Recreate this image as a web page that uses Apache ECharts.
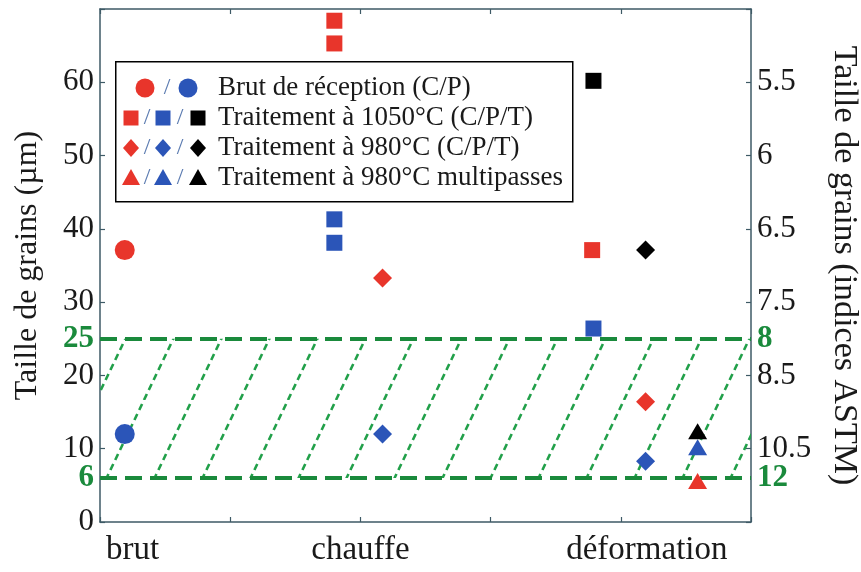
<!DOCTYPE html>
<html><head><meta charset="utf-8">
<script src="https://cdn.jsdelivr.net/npm/echarts@6/dist/echarts.min.js"></script>
<style>html,body{margin:0;padding:0;background:#fff}#c{width:861px;height:572px}</style>
</head><body><div id="c"></div>
<script>
// ---- data ----
const categoryNames = ['brut', 'chauffe', 'déformation'];
const categoryLabelPos = [5, 40, 84];          // positions on a 0..100 label axis
const leftTicks = [0, 10, 20, 30, 40, 50, 60];
const astmTickPos = [10, 20, 30, 40, 50, 60];
const astmTickLabels = ['10.5', '8.5', '7.5', '6.5', '6', '5.5'];
const bandLimits = [6, 25];
const bandLeftLabels = ['6', '25'];
const bandRightLabels = ['12', '8'];

const legendTexts = ['Brut de réception (C/P)', 'Traitement à 1050°C (C/P/T)', 'Traitement à 980°C (C/P/T)', 'Traitement à 980°C multipasses'];

// [x, grain size µm]
const brutC  = [[0.19, 37.1]];
const brutP  = [[0.19, 12.0]];
const t1050C = [[1.80, 68.4], [1.80, 65.3], [3.78, 37.1]];
const t1050P = [[1.80, 41.3], [1.80, 38.1], [3.79, 26.4]];
const t1050T = [[3.79, 60.2]];
const t980C  = [[2.17, 33.3], [4.19, 16.4]];
const t980P  = [[2.17, 12.0], [4.19, 8.3]];
const t980T  = [[4.19, 37.1]];
const multiC = [[4.59, 5.6]];
const multiP = [[4.59, 10.2]];
const multiT = [[4.59, 12.4]];

// ---- styles ----
const RED = '#e8352b', BLUE = '#2b55b8', BLACK = '#000000', GREEN = '#1a8a3c', HATCH = '#22a04a';
const AXIS = '#3e5a66';
const FONT = 'Liberation Serif';

const tile = document.createElement('canvas');
tile.width = 48; tile.height = 100;
const g = tile.getContext('2d');
g.strokeStyle = HATCH; g.lineWidth = 2.6; g.setLineDash([6.6, 4.5]);
for (const dx of [-48, 0, 48]) { g.beginPath(); g.moveTo(dx, 100); g.lineTo(dx + 48, 0); g.stroke(); }

const chart = echarts.init(document.getElementById('c'), null, {renderer: 'canvas'});

function sc(name, data, symbol, size, color) {
  return {name, type: 'scatter', data, symbol, symbolSize: size, itemStyle: {color, opacity: 1}, z: 5, xAxisIndex: 0, yAxisIndex: 0};
}

const axLine = {show: true, onZero: false, lineStyle: {color: AXIS, width: 1.5}};
const axTick = {show: true, inside: true, length: 5, lineStyle: {color: AXIS, width: 1.2}};
const lab = {fontFamily: FONT, fontSize: 31, color: '#1a1a1a'};
const greenLab = {fontFamily: FONT, fontSize: 31, color: GREEN, fontWeight: 'bold'};

const series = [
  {
    type: 'scatter', data: [], xAxisIndex: 0, yAxisIndex: 0, z: 1,
    markArea: {silent: true, itemStyle: {color: {image: tile, repeat: 'repeat'}},
      data: [[{yAxis: bandLimits[0]}, {yAxis: bandLimits[1]}]]},
    markLine: {silent: true, symbol: ['none', 'none'], label: {show: false},
      lineStyle: {type: [17, 8], width: 4, color: GREEN},
      data: bandLimits.map(v => ({yAxis: v}))}
  },
  sc('brutC', brutC, 'circle', 20, RED),
  sc('brutP', brutP, 'circle', 20, BLUE),
  sc('t1050C', t1050C, 'rect', 16, RED),
  sc('t1050P', t1050P, 'rect', 16, BLUE),
  sc('t1050T', t1050T, 'rect', 16, BLACK),
  sc('t980C', t980C, 'diamond', 19, RED),
  sc('t980P', t980P, 'diamond', 19, BLUE),
  sc('t980T', t980T, 'diamond', 19, BLACK),
  sc('multiC', multiC, 'triangle', [19, 16], RED),
  sc('multiP', multiP, 'triangle', [19, 16], BLUE),
  sc('multiT', multiT, 'triangle', [19, 16], BLACK)
];

// legend graphics
const LX = 115, LY = 61, LW = 457, LH = 140, ROW0 = 88, ROWH = 30;
const legendGraphics = [{type: 'rect', left: LX, top: LY, shape: {width: LW, height: LH}, style: {fill: '#fff', stroke: '#000', lineWidth: 1.5}, z: 10}];
const symColors = [RED, BLUE, BLACK];
legendTexts.forEach((t, i) => {
  const cy = ROW0 + i * ROWH;
  legendGraphics.push({type: 'text', x: 218, y: cy, style: {text: t, font: '27px "' + FONT + '"', fill: '#1a1a1a', verticalAlign: 'middle'}, z: 11});
  if (i === 0) {
    legendGraphics.push({type: 'circle', shape: {cx: 145, cy, r: 9.5}, style: {fill: RED}, z: 11});
    legendGraphics.push({type: 'circle', shape: {cx: 188, cy, r: 9.5}, style: {fill: BLUE}, z: 11});
    legendGraphics.push({type: 'text', x: 167, y: cy, style: {text: '/', font: '24px "' + FONT + '"', fill: '#5a7ab0', align: 'center', verticalAlign: 'middle'}, z: 11});
  } else {
    const xs = [131, 163, 198];
    xs.forEach((x, k) => {
      let el;
      if (i === 1) el = {type: 'rect', shape: {x: x - 7.5, y: cy - 7.5, width: 15, height: 15}};
      else if (i === 2) el = {type: 'polygon', shape: {points: [[x, cy - 9], [x + 8, cy], [x, cy + 9], [x - 8, cy]]}};
      else el = {type: 'polygon', shape: {points: [[x, cy - 9], [x + 9, cy + 7], [x - 9, cy + 7]]}};
      el.style = {fill: symColors[k]}; el.z = 11;
      legendGraphics.push(el);
    });
    [147, 180].forEach(x => legendGraphics.push({type: 'text', x, y: cy, style: {text: '/', font: '24px "' + FONT + '"', fill: '#5a7ab0', align: 'center', verticalAlign: 'middle'}, z: 11}));
  }
});

const option = {
  animation: false,
  backgroundColor: '#fff',
  grid: {left: 100, right: 110, top: 9, bottom: 50, show: false, containLabel: false, outerBoundsMode: 'none'},
  xAxis: [
    {type: 'value', min: 0, max: 5, interval: 1, position: 'bottom', axisLine: axLine, axisTick: axTick, axisLabel: {show: false}, splitLine: {show: false}},
    {type: 'value', min: 0, max: 5, interval: 1, position: 'top', axisLine: axLine, axisTick: axTick, axisLabel: {show: false}, splitLine: {show: false}},
    {type: 'value', min: 0, max: 100, interval: 1, position: 'bottom', axisLine: {show: false, onZero: false}, axisTick: {show: false}, splitLine: {show: false},
      axisLabel: Object.assign({}, lab, {fontSize: 33, margin: 12, formatter: v => { const i = categoryLabelPos.indexOf(v); return i >= 0 ? categoryNames[i] : ''; }})}
  ],
  yAxis: [
    {type: 'value', min: 0, max: 70, interval: 10, position: 'left', axisLine: axLine, axisTick: axTick, splitLine: {show: false},
      axisLabel: Object.assign({}, lab, {margin: 6, formatter: v => leftTicks.includes(v) ? String(v) : ''}),
      name: 'Taille de grains (µm)', nameLocation: 'middle', nameRotate: 90, nameGap: 56,
      nameTextStyle: {fontFamily: FONT, fontSize: 32, color: '#1a1a1a'}},
    {type: 'value', min: 0, max: 70, interval: 1, position: 'left', axisLine: {show: false, onZero: false}, axisTick: {show: false}, splitLine: {show: false},
      axisLabel: Object.assign({}, greenLab, {margin: 6, formatter: v => { const i = bandLimits.indexOf(v); return i >= 0 ? bandLeftLabels[i] : ''; }})},
    {type: 'value', min: 0, max: 70, interval: 10, position: 'right', axisLine: axLine, axisTick: axTick, splitLine: {show: false},
      axisLabel: Object.assign({}, lab, {margin: 6, formatter: v => { const i = astmTickPos.indexOf(v); return i >= 0 ? astmTickLabels[i] : ''; }}),
      name: 'Taille de grains (indices ASTM)', nameLocation: 'middle', nameRotate: -90, nameGap: 76,
      nameTextStyle: {fontFamily: FONT, fontSize: 34, color: '#1a1a1a'}},
    {type: 'value', min: 0, max: 70, interval: 1, position: 'right', axisLine: {show: false, onZero: false}, axisTick: {show: false}, splitLine: {show: false},
      axisLabel: Object.assign({}, greenLab, {margin: 6, formatter: v => { const i = bandLimits.indexOf(v); return i >= 0 ? bandRightLabels[i] : ''; }})}
  ],
  series,
  graphic: legendGraphics
};
chart.setOption(option);
</script>
</body></html>
